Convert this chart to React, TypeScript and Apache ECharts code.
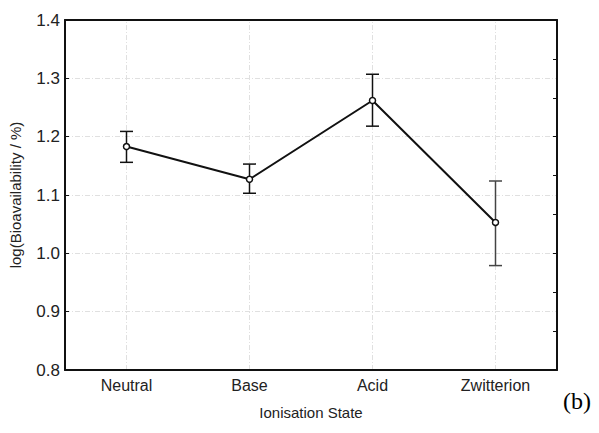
import React, { useEffect, useRef } from "react";
import * as echarts from "echarts";

// Mean log bioavailability by ionisation state, with error bar limits
const states = ["Neutral", "Base", "Acid", "Zwitterion"];
const meanLogF = [1.183, 1.127, 1.262, 1.053];
const upperLogF = [1.209, 1.153, 1.307, 1.124];
const lowerLogF = [1.156, 1.103, 1.218, 0.979];
const yTicks = [0.8, 0.9, 1.0, 1.1, 1.2, 1.3, 1.4];

export default function App() {
  const ref = useRef<HTMLDivElement>(null);

  useEffect(() => {
    document.body.style.margin = "0";
    if (!ref.current) return;
    const chart = echarts.init(ref.current, null, { renderer: "svg" });

    const errData = states.map((s, i) => [i, lowerLogF[i], upperLogF[i]]);
    const axisColor = "#111";
    const gridStyle = { color: "#e0e0e0", type: [5, 2, 1, 2], width: 1 };

    chart.setOption({
      animation: false,
      backgroundColor: "#fff",
      textStyle: { fontFamily: "Liberation Sans, Arial, sans-serif" },
      grid: { left: 65, top: 20, right: 42, bottom: 63 },
      xAxis: [
        {
          type: "category",
          data: states,
          position: "bottom",
          boundaryGap: true,
          name: "Ionisation State",
          nameLocation: "middle",
          nameGap: 35,
          nameTextStyle: { fontSize: 15, color: "#222" },
          axisLine: { lineStyle: { color: axisColor, width: 2 } },
          axisTick: { inside: true, alignWithLabel: true, length: 4, lineStyle: { color: axisColor, width: 1 } },
          axisLabel: { fontSize: 16, color: "#222", margin: 7 },
          splitLine: { show: false },
        },
        {
          type: "category",
          data: states,
          position: "top",
          boundaryGap: true,
          axisLine: { lineStyle: { color: axisColor, width: 2 } },
          axisTick: { inside: true, alignWithLabel: true, length: 4, lineStyle: { color: axisColor, width: 1 } },
          axisLabel: { show: false },
          splitLine: { show: false },
        },
      ],
      yAxis: [
        {
          type: "value",
          min: yTicks[0],
          max: yTicks[yTicks.length - 1],
          interval: 0.1,
          position: "left",
          name: "log(Bioavailability / %)",
          nameLocation: "middle",
          nameGap: 42,
          nameRotate: 90,
          nameTextStyle: { fontSize: 15, color: "#222" },
          axisLine: { show: true, lineStyle: { color: axisColor, width: 2 } },
          axisTick: { show: true, inside: true, length: 4, lineStyle: { color: axisColor, width: 1 } },
          axisLabel: { fontSize: 17, color: "#222", margin: 5, formatter: (v: number) => v.toFixed(1) },
          splitLine: { show: true, lineStyle: gridStyle },
        },
        {
          type: "value",
          min: 0,
          max: 9,
          interval: 1,
          position: "right",
          axisLine: { show: true, lineStyle: { color: axisColor, width: 2 } },
          axisTick: { show: true, inside: true, length: 4, lineStyle: { color: axisColor, width: 1 } },
          axisLabel: { show: false },
          splitLine: { show: false },
        },
      ],
      series: [
        {
          type: "line",
          data: meanLogF,
          xAxisIndex: 0,
          yAxisIndex: 0,
          symbol: "circle",
          symbolSize: 6,
          itemStyle: { color: "#fff", borderColor: "#111", borderWidth: 1.5 },
          lineStyle: { color: "#111", width: 2 },
          z: 3,
          markLine: {
            silent: true,
            symbol: "none",
            label: { show: false },
            lineStyle: gridStyle,
            data: states.map((s) => ({ xAxis: s })),
            z: 0,
          },
        },
        {
          type: "custom",
          xAxisIndex: 0,
          yAxisIndex: 0,
          data: errData,
          encode: { x: 0, y: [1, 2] },
          z: 2,
          renderItem: (params: any, api: any) => {
            const x = api.value(0);
            const lo = api.coord([x, api.value(1)]);
            const hi = api.coord([x, api.value(2)]);
            const half = 6.5;
            const style = { stroke: params.dataIndex === 3 ? "#444" : "#111", lineWidth: 1.5 };
            return {
              type: "group",
              children: [
                { type: "line", shape: { x1: hi[0], y1: hi[1], x2: lo[0], y2: lo[1] }, style },
                { type: "line", shape: { x1: hi[0] - half, y1: hi[1], x2: hi[0] + half, y2: hi[1] }, style },
                { type: "line", shape: { x1: lo[0] - half, y1: lo[1], x2: lo[0] + half, y2: lo[1] }, style },
              ],
            };
          },
        },
      ],
      graphic: [
        {
          type: "text",
          left: 563,
          top: 389,
          style: { text: "(b)", fontSize: 24, fontFamily: "Liberation Serif, Times New Roman, serif", fill: "#000" },
        },
      ],
    });

    return () => chart.dispose();
  }, []);

  return <div ref={ref} style={{ width: 599, height: 433 }} />;
}
